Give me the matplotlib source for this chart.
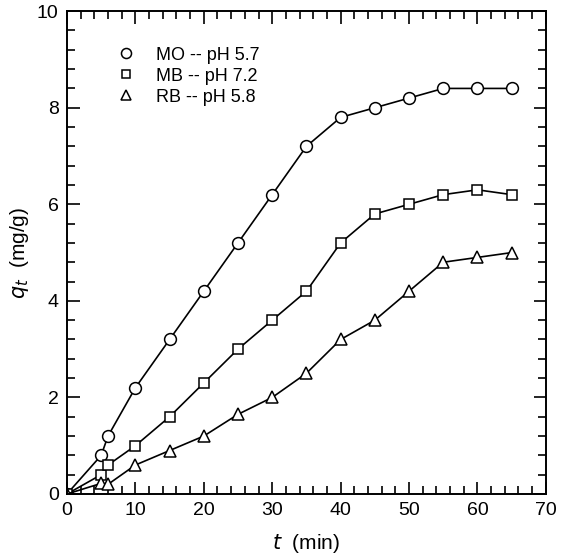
import matplotlib
matplotlib.use("Agg")
import matplotlib.pyplot as plt
from matplotlib.ticker import MultipleLocator

plt.rcParams['font.family'] = ['Liberation Sans', 'DejaVu Sans']

t = [0, 5, 6, 10, 15, 20, 25, 30, 35, 40, 45, 50, 55, 60, 65]
mo = [0, 0.8, 1.2, 2.2, 3.2, 4.2, 5.2, 6.2, 7.2, 7.8, 8.0, 8.2, 8.4, 8.4, 8.4]
mb = [0, 0.4, 0.6, 1.0, 1.6, 2.3, 3.0, 3.6, 4.2, 5.2, 5.8, 6.0, 6.2, 6.3, 6.2]
rb = [0, 0.22, 0.2, 0.6, 0.9, 1.2, 1.65, 2.0, 2.5, 3.2, 3.6, 4.2, 4.8, 4.9, 5.0]
labels = ['MO -- pH 5.7', 'MB -- pH 7.2', 'RB -- pH 5.8']

fig = plt.figure(figsize=(5.61, 5.59), dpi=100)
ax = fig.add_axes([0.1194, 0.1163, 0.8536, 0.8637])

style = dict(color='black', lw=1.2, mfc='white', mec='black', mew=1.1)
ax.plot(t, mo, marker='o', ms=8.5, label=labels[0], **style)
ax.plot(t, mb, marker='s', ms=7.5, label=labels[1], **style)
ax.plot(t, rb, marker='^', ms=8.5, label=labels[2], **style)

ax.set_xlim(0, 70)
ax.set_ylim(0, 10)
ax.xaxis.set_major_locator(MultipleLocator(10))
ax.xaxis.set_minor_locator(MultipleLocator(2))
ax.yaxis.set_major_locator(MultipleLocator(2))
ax.yaxis.set_minor_locator(MultipleLocator(0.4))
ax.tick_params(which='both', direction='in', top=True, right=True, width=1.2, labelsize=14)
ax.tick_params(which='major', length=9)
ax.tick_params(which='minor', length=5.5)
ax.tick_params(axis='x', which='major', pad=6)
ax.tick_params(axis='y', which='major', pad=6)
for s in ax.spines.values():
    s.set_linewidth(1.4)

ax.set_xlabel(r'$t$  (min)', fontsize=15, labelpad=9)
ax.set_ylabel(r'$q_t$  (mg/g)', fontsize=15, labelpad=4)

leg = ax.legend(loc='upper left', frameon=False, fontsize=13, handlelength=0,
                handletextpad=1.65, bbox_to_anchor=(0.09, 0.96), labelspacing=0.22,
                markerscale=0.85)
for line in leg.get_lines():
    line.set_linestyle('none')

fig.savefig('out.png', dpi=100)
